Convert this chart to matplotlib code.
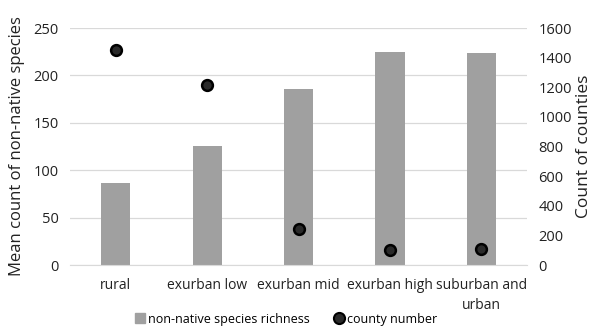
import numpy as np
import matplotlib.pyplot as plt
from matplotlib.lines import Line2D

plt.rcParams['font.family'] = ['Open Sans', 'DejaVu Sans']

categories = ['rural', 'exurban low', 'exurban mid', 'exurban high', 'suburban and\nurban']
richness = [86.5, 126, 185.6, 224.7, 223.6]
county_count = [1452, 1216, 243, 101, 105]

fig = plt.figure(figsize=(5.95, 3.27), dpi=100)
ax = fig.add_axes([0.1176, 0.1896, 0.7684, 0.7244])
ax2 = ax.twinx()

x = np.arange(len(categories))
ax.bar(x, richness, width=0.32, color='#a0a0a0', zorder=2)
ax2.scatter(x, county_count, s=60, facecolor='#2a2a2a', edgecolor='black', linewidth=1.8, zorder=3)

ax.set_xlim(-0.5, 4.5)
ax.set_ylim(0, 250)
ax.set_yticks(np.arange(0, 251, 50))
ax2.set_ylim(0, 1600)
ax2.set_yticks(np.arange(0, 1601, 200))
ax.grid(axis='y', color='#d9d9d9', linewidth=0.9, zorder=0)
ax.set_axisbelow(True)

for a in (ax, ax2):
    for s in a.spines.values():
        s.set_visible(False)
    a.tick_params(length=0, labelsize=10.5, colors='#222222')
ax.spines['bottom'].set_visible(True)
ax.spines['bottom'].set_color('#d9d9d9')
ax.tick_params(axis='y', pad=8)
ax2.tick_params(axis='y', pad=8)
ax.tick_params(axis='x', pad=9, labelsize=10)

ax.set_xticks(x)
ax.set_xticklabels(categories, linespacing=1.5)
ax.set_ylabel('Mean count of non-native species', fontsize=12, color='#222222', labelpad=6)
ax2.set_ylabel('Count of counties', fontsize=12.5, color='#222222', labelpad=3)

handles = [Line2D([], [], marker='s', linestyle='none', markersize=7, color='#a0a0a0'),
           Line2D([], [], marker='o', linestyle='none', markersize=8, markerfacecolor='#2a2a2a',
                  markeredgecolor='black', markeredgewidth=1.5)]
fig.legend(handles, ['non-native species richness', 'county number'], loc='lower center',
           bbox_to_anchor=(0.48, -0.03), ncol=2, frameon=False, fontsize=9,
           handletextpad=0.1, columnspacing=1.9, handlelength=1.0)

fig.savefig('out.png', dpi=100)
